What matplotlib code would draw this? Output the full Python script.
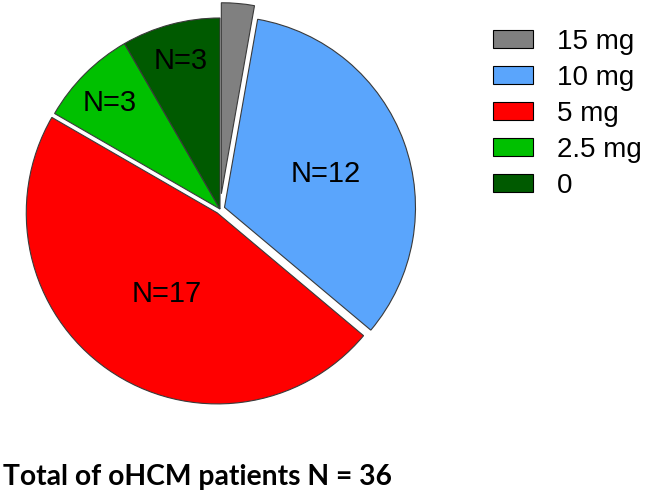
import numpy as np
import matplotlib
matplotlib.use("Agg")
import matplotlib.pyplot as plt
from matplotlib import patches

# data
doses = ["15 mg", "10 mg", "5 mg", "2.5 mg", "0"]
counts = [1, 12, 17, 3, 3]
labels = ["", "N=12", "N=17", "N=3", "N=3"]
colors = ["#808080", "#5aa5fc", "#ff0000", "#00c000", "#005a00"]
explode = [0.08, 0.025, 0.025, 0.0, 0.0]
label_r = [0.0, 0.56, 0.5, 0.8, 0.8]
label_dang = [0, -2, 3, 1, 0]

plt.rcParams["font.family"] = ["Liberation Sans", "DejaVu Sans"]

W, H, DPI = 652, 492, 100
fig = plt.figure(figsize=(W / DPI, H / DPI), dpi=DPI)

# pie axes, radius 1 -> ~191 px, center ~(220, 210) px from top-left
R = 191
lim = 1.1
size = 2 * lim * R
cx, cy = 220, H - 209
ax = fig.add_axes([(cx - size / 2) / W, (cy - size / 2) / H, size / W, size / H])

wedges, _ = ax.pie(
    counts,
    colors=colors,
    explode=explode,
    startangle=90,
    counterclock=False,
    wedgeprops={"edgecolor": "#3a3a3a", "linewidth": 0.8},
)
ax.set_xlim(-lim, lim)
ax.set_ylim(-lim, lim)
ax.set_aspect("equal")
ax.axis("off")

for w, lab, r, da in zip(wedges, labels, label_r, label_dang):
    if not lab:
        continue
    ang = np.deg2rad((w.theta1 + w.theta2) / 2 + da)
    x0, y0 = w.center
    ax.text(x0 + r * np.cos(ang), y0 + r * np.sin(ang), lab,
            ha="center", va="center", fontsize=21)

handles = [
    patches.Patch(facecolor=c, edgecolor="black", linewidth=0.8, label=d)
    for c, d in zip(colors, doses)
]
fig.legend(
    handles=handles,
    loc="upper left",
    bbox_to_anchor=(479 / W, 1 - 15 / H),
    frameon=False,
    fontsize=20,
    handlelength=1.45,
    handleheight=0.65,
    handletextpad=0.85,
    labelspacing=0.36,
    borderpad=0,
)

fig.text(3 / W, 1 - 485 / H, "Total of oHCM patients N = 36",
         family=["Lato", "DejaVu Sans"], fontweight="bold", fontsize=20.3,
         ha="left", va="baseline")

fig.savefig("out.png", dpi=DPI, facecolor="white")
